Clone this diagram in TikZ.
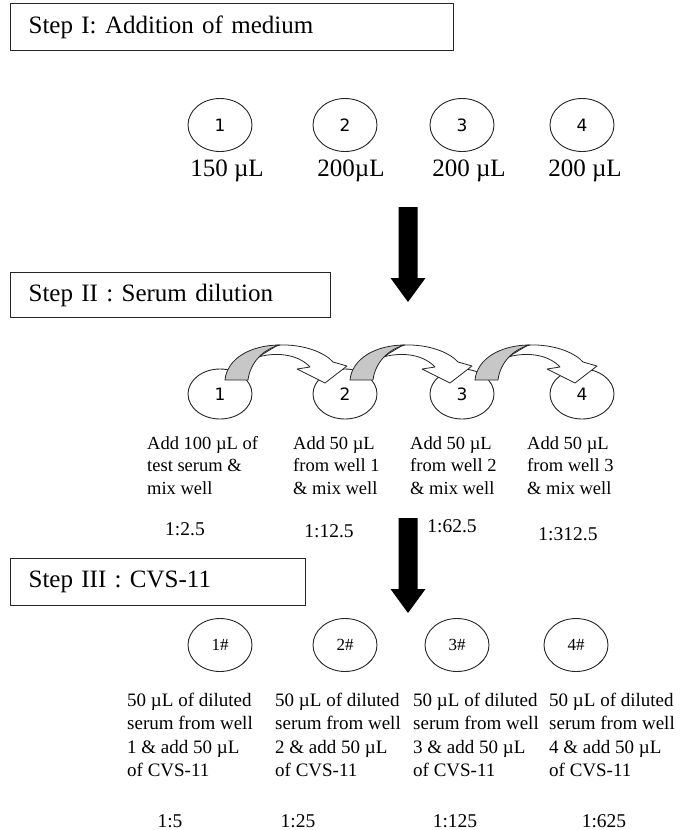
\documentclass[tikz,border=0pt]{standalone}
\usepackage{fontspec}
\setmainfont{Liberation Serif}
\newfontfamily\numfont{DejaVu Sans}
\usetikzlibrary{shapes.geometric,calc}
\begin{document}
\begin{tikzpicture}[x=1pt,y=-1pt,
  well/.style={ellipse, draw=black!85, line width=0.9pt, minimum width=64pt, minimum height=53pt, inner sep=0pt, font=\numfont\fontsize{17}{19}\selectfont},
  wellh/.style={well, font=\fontsize{17}{19}\selectfont},
  stepbox/.style={draw=black!85, line width=1.3pt, anchor=north west, inner xsep=18pt, inner ysep=0pt, align=left, font=\fontsize{25}{29}\selectfont},
  vol/.style={anchor=base, inner sep=0pt, font=\fontsize{25}{28}\selectfont},
  desc/.style={anchor=north west, inner sep=0pt, align=left, font=\fontsize{18.5}{22.5}\selectfont},
  desc3/.style={desc, font=\fontsize{19}{23.3}\selectfont},
  ratio/.style={anchor=base, inner sep=0pt, font=\fontsize{19.5}{22}\selectfont},
  blockarrow/.style={fill=black},
  bandgray/.style={fill=black!22, draw=black!85, line width=0.8pt, line join=round},
  bandwhite/.style={fill=white, draw=black!85, line width=0.8pt, line join=round}
]
\fill[white] (0,0) rectangle (696,830);
\useasboundingbox (0,0) rectangle (696,830);

% ---------- Step I ----------
\node[stepbox, text width=407pt, minimum height=47pt] (s1) at (10,3) {Step I: Addition of medium};
\node[well] (a1) at (220,125) {1};
\node[well] (a2) at (345,125) {2};
\node[well] (a3) at (462,125) {3};
\node[well] (a4) at (582,125) {4};
\node[vol] (va1) at (227,176) {150 µL};
\node[vol] (va2) at (351,176) {200µL};
\node[vol] (va3) at (469,176) {200 µL};
\node[vol] (va4) at (585,176) {200 µL};

\coordinate (t1) at (408,207);
\begin{scope}[shift={(t1)}]
  \fill[blockarrow] (-9.5,0) -- (9.5,0) -- (9.5,71) -- (17.5,71) -- (0,95) -- (-17.5,71) -- (-9.5,71) -- cycle;
\end{scope}

% ---------- Step II ----------
\node[stepbox, text width=284pt, minimum height=45pt] (s2) at (10,272) {Step II : Serum dilution};
\node[well, minimum height=50pt] (b1) at (220,394) {1};
\node[well, minimum height=50pt] (b2) at (345,394) {2};
\node[well, minimum height=50pt] (b3) at (462,394) {3};
\node[well, minimum height=50pt] (b4) at (582,394) {4};

\foreach \dx in {5,130,255}{
  \begin{scope}[shift={($(b1.center)+(\dx,-13)$)}]
    \filldraw[bandwhite] (33,-24) -- (53,-36) .. controls (80,-37) and (100,-28) .. (108,-19)
      -- (122,-15) -- (100,2) -- (72,-12) -- (85,-14)
      .. controls (75,-25) and (55,-30) .. (33,-24) -- cycle;
    \filldraw[bandgray] (0,-1) .. controls (2,-22) and (25,-36) .. (55,-36)
      .. controls (38,-32) and (25,-18) .. (23,-1) -- cycle;
  \end{scope}
}

\node[desc] (db1) at (147,436) {Add 100 µL of\\test serum \&\\mix well};
\node[desc] (db2) at (293,436) {Add 50 µL\\from well 1\\\& mix well};
\node[desc] (db3) at (410,436) {Add 50 µL\\from well 2\\\& mix well};
\node[desc] (db4) at (527,436) {Add 50 µL\\from well 3\\\& mix well};

\node[ratio] (rb1) at (185,535) {1:2.5};
\node[ratio] (rb2) at (329,537) {1:12.5};
\node[ratio] (rb3) at (452,532) {1:62.5};
\node[ratio] (rb4) at (568,540) {1:312.5};

\coordinate (t2) at (408,518);
\begin{scope}[shift={(t2)}]
  \fill[blockarrow] (-9.5,0) -- (9.5,0) -- (9.5,71) -- (17.5,71) -- (0,95) -- (-17.5,71) -- (-9.5,71) -- cycle;
\end{scope}

% ---------- Step III ----------
\node[stepbox, text width=259pt, minimum height=47pt] (s3) at (10,558) {Step III : CVS-11};
\node[wellh] (c1) at (220,645) {1\#};
\node[wellh] (c2) at (345,645) {2\#};
\node[wellh] (c3) at (457,645) {3\#};
\node[wellh] (c4) at (576,645) {4\#};

\node[desc3] (dc1) at (127,693) {50 µL of diluted\\serum from well\\1 \& add 50 µL\\of CVS-11};
\node[desc3] (dc2) at (275,693) {50 µL of diluted\\serum from well\\2 \& add 50 µL\\of CVS-11};
\node[desc3] (dc3) at (413,693) {50 µL of diluted\\serum from well\\3 \& add 50 µL\\of CVS-11};
\node[desc3] (dc4) at (549,693) {50 µL of diluted\\serum from well\\4 \& add 50 µL\\of CVS-11};

\node[ratio] (rc1) at (170,827) {1:5};
\node[ratio] (rc2) at (298,827) {1:25};
\node[ratio] (rc3) at (455,827) {1:125};
\node[ratio] (rc4) at (604,827) {1:625};
\end{tikzpicture}
\end{document}
